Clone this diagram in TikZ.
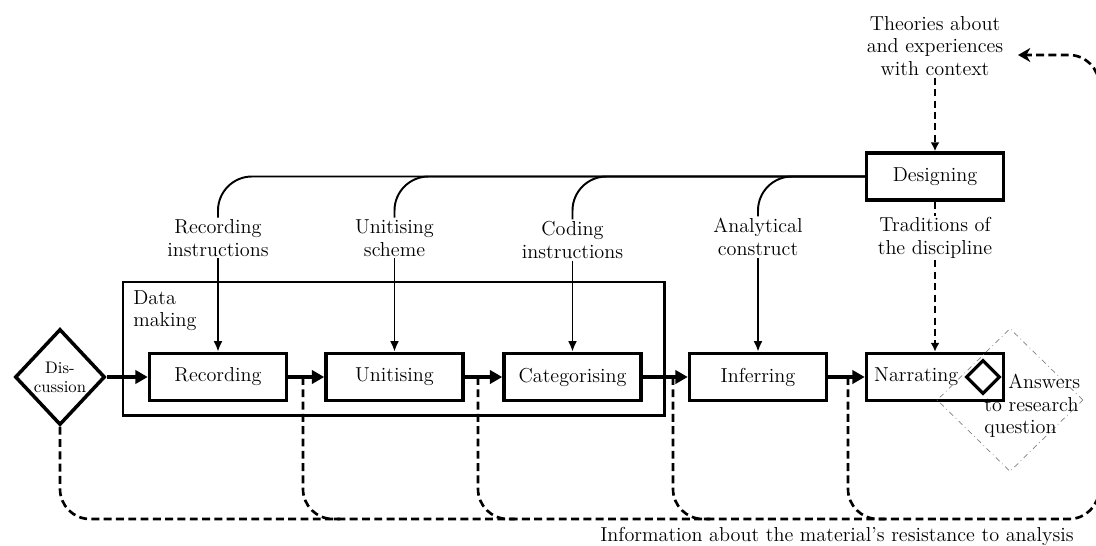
\documentclass[tikz,border=0pt]{standalone}
\usepackage{tikz}
\usetikzlibrary{positioning}
\usetikzlibrary{shapes.geometric}
\usetikzlibrary{arrows.meta}

\begin{document}
\begin{tikzpicture}[font=\fontsize{11.5}{12.8}\selectfont]

\tikzset
  {
    stepBox/.style=    {draw, line width=2pt, minimum width=2.74cm, minimum height=0.94cm, inner sep=0pt},
    lab/.style=        {align=center, inner sep=1pt},
    flow/.style=       {line width=2.2pt, -{Triangle[length=7pt,width=7.5pt]}},
    guide/.style=      {line width=1.1pt},
    feed/.style=       {line width=1.5pt, dash pattern=on 4.5pt off 2.5pt},
    feedThin/.style=   {line width=1.1pt, dash pattern=on 4pt off 2.5pt}
  }

\useasboundingbox (0,0) rectangle (21.92,10.9);

% data making frame
\draw[line width=1.7pt] (2.46,2.6) rectangle (13.28,5.26);
\node[anchor=north west, align=left, inner sep=0pt] (dm) at (2.66,5.1) {Data\\making};

% steps
\node[stepBox] (rec) at (4.36,3.36) {Recording};
\node[stepBox] (uni) at (7.89,3.36) {Unitising};
\node[stepBox] (cat) at (11.45,3.36) {Categorising};
\node[stepBox] (inf) at (15.16,3.36) {Inferring};
\node[stepBox] (nar) at (18.7,3.36) {\hspace*{-0.75cm}Narrating};
\node[stepBox] (des) at (18.7,7.37) {Designing};

\node[draw, diamond, line width=2pt, minimum width=1.8cm, minimum height=1.92cm, inner sep=0pt,
      align=center, font=\fontsize{9.5}{10.8}\selectfont] (dis) at (1.2,3.36) {Dis-\\cussion};

% answers
\node[draw, diamond, line width=1.8pt, minimum size=0.68cm, inner sep=0pt] (ans) at (19.66,3.36) {};
\node[draw=gray, diamond, dash dot, thin, minimum width=2.92cm, minimum height=2.86cm, inner sep=0pt] (ansz) at (20.2,2.9) {};
\node[anchor=west, align=left, inner sep=0pt] (anst) at (19.68,2.78) {\hspace*{0.48cm}Answers\\to research\\question};

% labels
\node[lab] (ri) at (4.36,6.14) {Recording\\instructions};
\node[lab] (us) at (7.89,6.14) {Unitising\\scheme};
\node[lab] (ci) at (11.45,6.1) {Coding\\instructions};
\node[lab] (ac) at (15.16,6.16) {Analytical\\construct};
\node[lab] (tr) at (18.7,6.14) {Traditions of\\the discipline};
\node[lab] (theo) at (18.7,9.98) {Theories about\\and experiences\\with context};

\node[anchor=base] (info) at (16.74,0.08) {Information about the material's resistance to analysis};

% design lines
\foreach \l in {ri,us,ci,ac}
\draw[guide, rounded corners=0.68cm] (\l.north) |- (des.west);

\foreach \l/\b in {ri/rec,us/uni,ci/cat,ac/inf}
\draw[guide, -{Latex[length=6pt,width=5pt]}] (\l.south) -- (\b.north);

\draw[feedThin, -{Latex[length=5pt,width=5pt]}] (theo.south) -- (des.north);
\draw[feedThin] (des.south) -- (tr.north);
\draw[feedThin, -{Latex[length=5pt,width=5pt]}] (tr.south) -- (nar.north);

% flow
\draw[flow] (dis.east) -- (rec.west);
\draw[flow] (rec.east) -- (uni.west);
\draw[flow] (uni.east) -- (cat.west);
\draw[flow] (cat.east) -- (inf.west);
\draw[flow] (inf.east) -- (nar.west);

% feedback
\coordinate (b1) at (6.06,3.36);
\coordinate (b2) at (9.56,3.36);
\coordinate (b3) at (13.46,3.36);
\coordinate (b4) at (16.96,3.36);
\coordinate (bot) at (21.98,0.52);
\coordinate (top) at (20.36,9.8);

\draw[feed, rounded corners=0.6cm, -{Stealth[length=7pt,width=8pt]}] (dis.south) |- (bot) |- (top);

\draw[feed, rounded corners=0.6cm] (b1) |- (6.8,0.52);
\draw[feed, rounded corners=0.6cm] (b2) |- (10.3,0.52);
\draw[feed, rounded corners=0.6cm] (b3) |- (14.2,0.52);
\draw[feed, rounded corners=0.6cm] (b4) |- (17.7,0.52);

\end{tikzpicture}
\end{document}
